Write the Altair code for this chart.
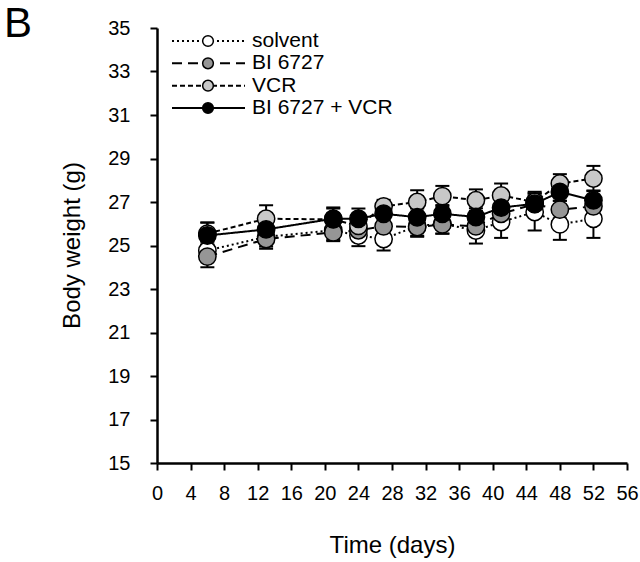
import altair as alt
import pandas as pd

series = ["solvent", "BI 6727", "VCR", "BI 6727 + VCR"]
days = [6, 13, 21, 24, 27, 31, 34, 38, 41, 45, 48, 52]

solvent = [24.77, 25.40, 25.70, 25.46, 25.30, 25.90, 26.00, 25.69, 26.08, 26.54, 25.97, 26.23]
bi6727 = [24.49, 25.30, 25.60, 25.70, 25.88, 25.85, 25.97, 25.88, 26.46, 26.90, 26.65, 26.80]
vcr = [25.55, 26.23, 26.20, 25.90, 26.80, 27.00, 27.27, 27.08, 27.30, 27.00, 27.85, 28.08]
combo = [25.46, 25.74, 26.23, 26.23, 26.46, 26.30, 26.46, 26.31, 26.74, 26.92, 27.46, 27.08]

solvent_err = [0.40, 0.45, 0.45, 0.49, 0.53, 0.45, 0.45, 0.60, 0.73, 0.85, 0.71, 0.88]
bi6727_err = [0.49, 0.45, 0.40, 0.40, 0.40, 0.45, 0.43, 0.40, 0.40, 0.40, 0.40, 0.40]
vcr_err = [0.50, 0.62, 0.50, 0.45, 0.30, 0.54, 0.47, 0.50, 0.55, 0.40, 0.43, 0.58]
combo_err = [0.60, 0.50, 0.52, 0.47, 0.45, 0.40, 0.40, 0.40, 0.45, 0.55, 0.40, 0.45]

x_ticks = list(range(0, 57, 4))
y_ticks = list(range(15, 36, 2))

fills = ["#ffffff", "#969696", "#c8c8c8", "#000000"]
dashes = [[2, 3], [10, 6], [5, 3], [1, 0]]

rows = []
for name, vals, errs in zip(series, [solvent, bi6727, vcr, combo],
                            [solvent_err, bi6727_err, vcr_err, combo_err]):
    for d, v, e in zip(days, vals, errs):
        rows.append({"series": name, "day": d, "weight": v,
                     "lo": v - e, "hi": v + e})
df = pd.DataFrame(rows)
leg = pd.DataFrame({"series": series, "row": list(range(len(series)))})
panel = pd.DataFrame({"panel": ["B"]})

FONT = "Liberation Sans"

xscale = alt.Scale(domain=[0, 56], nice=False, zero=False)
yscale = alt.Scale(domain=[15, 35], nice=False, zero=False)
fill_scale = alt.Scale(domain=series, range=fills)
dash_scale = alt.Scale(domain=series, range=dashes)

xaxis = alt.Axis(values=x_ticks, title="Time (days)",
                 titleY=89, titleBaseline="alphabetic",
                 labelPadding=13, labelOverlap=False, labelFlush=False,
                 labelBound=False, labelSeparation=0)
yaxis = alt.Axis(values=y_ticks, title="Body weight (g)",
                 titleX=-78, titleY=217, titleAngle=270,
                 titleAlign="center", titleBaseline="alphabetic",
                 labelPadding=20, labelOverlap=False, labelFlush=False)


def X(field="day:Q"):
    return alt.X(field, scale=xscale, axis=xaxis)


def Y(field):
    return alt.Y(field, scale=yscale, axis=yaxis)


base = alt.Chart(df)

err_rule = base.mark_rule(color="black", strokeWidth=2).encode(
    x=X(), y=Y("lo:Q"), y2="hi:Q")
cap_hi = base.mark_rule(color="black", strokeWidth=2, xOffset=-7, x2Offset=7).encode(
    x=X(), x2="day:Q", y=Y("hi:Q"))
cap_lo = base.mark_rule(color="black", strokeWidth=2, xOffset=-7, x2Offset=7).encode(
    x=X(), x2="day:Q", y=Y("lo:Q"))

lines = base.mark_line(color="black", strokeWidth=2).encode(
    x=X(), y=Y("weight:Q"),
    strokeDash=alt.StrokeDash("series:N", scale=dash_scale, legend=None),
    detail="series:N")

points = base.mark_point(shape="circle", filled=True, size=300, opacity=1,
                         stroke="black", strokeWidth=1.5).encode(
    x=X(), y=Y("weight:Q"),
    fill=alt.Fill("series:N", scale=fill_scale, legend=None))

data_layer = alt.layer(err_rule, cap_hi, cap_lo, lines, points)

ly = alt.Y("row:Q", scale=alt.Scale(domain=[0, 3], range=[13, 80], nice=False, zero=False),
           axis=None)
leg_base = alt.Chart(leg)
leg_line = leg_base.mark_rule(color="black", strokeWidth=2).encode(
    x=alt.value(15), x2=alt.value(88), y=ly,
    strokeDash=alt.StrokeDash("series:N", scale=dash_scale, legend=None))
leg_pt = leg_base.mark_point(shape="circle", filled=True, size=115, opacity=1,
                             stroke="black", strokeWidth=1.5).encode(
    x=alt.value(51), y=ly,
    fill=alt.Fill("series:N", scale=fill_scale, legend=None))
leg_txt = leg_base.mark_text(align="left", baseline="middle", font=FONT,
                             fontSize=21, color="black").encode(
    x=alt.value(95), y=ly, text="series:N")
legend_layer = alt.layer(leg_line, leg_pt, leg_txt)

panel_txt = alt.Chart(panel).mark_text(align="left", baseline="alphabetic",
                                       font=FONT, fontSize=42, color="black").encode(
    x=alt.value(-153), y=alt.value(9), text="panel:N")

chart = alt.layer(data_layer, legend_layer, panel_txt).resolve_scale(
    y="independent"
).properties(
    width=470, height=435, autosize="none",
    padding={"left": 157, "top": 28, "right": 13, "bottom": 99}
).configure_view(stroke=None).configure_axis(
    grid=False, domainColor="black", domainWidth=2.5, tickColor="black",
    tickWidth=2, tickSize=7, labelColor="black", titleColor="black",
    labelFont=FONT, titleFont=FONT, titleFontWeight="normal",
    labelFontSize=20, titleFontSize=24, labelOverlap=False
)

chart.save("out.html", embed_options={"renderer": "svg", "actions": False})
